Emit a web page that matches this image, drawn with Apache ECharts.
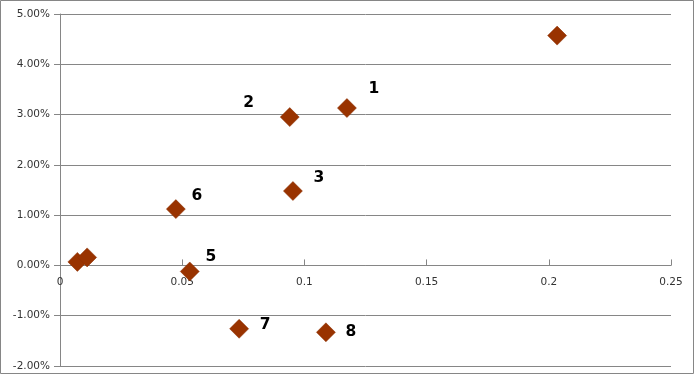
<!DOCTYPE html>
<html>
<head>
<meta charset="utf-8">
<script src="https://cdn.jsdelivr.net/npm/echarts@6/dist/echarts.min.js"></script>
<style>
html,body{margin:0;padding:0;background:#fff;}
#c{width:694px;height:374px;}
</style>
</head>
<body>
<div id="c"></div>
<script>
// data
var xValues = [0.2034, 0.1174, 0.0940, 0.0953, 0.0474, 0.0531, 0.0071, 0.0111, 0.0733, 0.1088];
var yValues = [4.57, 3.13, 2.95, 1.48, 1.12, -0.12, 0.07, 0.16, -1.26, -1.33]; // percent
var pointLabels = ['', '1', '2', '3', '6', '5', '', '', '7', '8'];
var xTicks = ['0', '0.05', '0.1', '0.15', '0.2', '0.25'];

// label placement (style only)
var labelOffsets = {
  '1': [27, -19], '2': [-41, -14], '3': [26, -13], '6': [21, -13],
  '5': [21, -14], '7': [26, -4], '8': [25, 0]
};

var data = xValues.map(function (x, i) {
  var name = pointLabels[i];
  var item = { value: [x, yValues[i]], name: name };
  if (name) {
    item.label = { show: true, position: 'inside', offset: labelOffsets[name], formatter: name };
  }
  return item;
});

var gridTop = 14, gridBottom = 8, H = 374;
var yMin = -2, yMax = 5;
var plotH = H - gridTop - gridBottom;
var zeroOffset = -plotH * (0 - yMin) / (yMax - yMin); // move x axis up to y=0

var chart = echarts.init(document.getElementById('c'));
var gray = '#868686';
chart.setOption({
  animation: false,
  backgroundColor: '#fff',
  grid: { left: 60, right: 23, top: gridTop, bottom: gridBottom, containLabel: false, outerBoundsMode: 'none' },
  graphic: [{
    type: 'rect', silent: true,
    shape: { x: 0.5, y: 0.5, width: 693, height: 373 },
    style: { fill: 'none', stroke: gray, lineWidth: 1 }
  }],
  xAxis: {
    type: 'value', min: 0, max: 0.25, interval: 0.05,
    position: 'bottom', offset: zeroOffset,
    axisLine: { show: true, onZero: false, lineStyle: { color: gray, width: 1 } },
    axisTick: { show: true, inside: true, length: 6, lineStyle: { color: gray } },
    axisLabel: {
      color: '#333', fontFamily: 'DejaVu Sans', fontSize: 10.5, margin: 11,
      formatter: function (v) { return xTicks[Math.round(v / 0.05)]; }
    },
    splitLine: { show: false }
  },
  yAxis: {
    type: 'value', min: yMin, max: yMax, interval: 1,
    axisLine: { show: true, lineStyle: { color: gray, width: 1 } },
    axisTick: { show: true, inside: false, length: 6, lineStyle: { color: gray } },
    axisLabel: {
      color: '#333', fontFamily: 'DejaVu Sans', fontSize: 10.5, margin: 10,
      formatter: function (v) { return v.toFixed(2) + '%'; }
    },
    splitLine: { show: true, lineStyle: { color: gray, width: 1 } }
  },
  series: [{
    type: 'scatter',
    symbol: 'diamond',
    symbolSize: 19,
    itemStyle: { color: '#993300', borderColor: '#8a2e00', borderWidth: 0.5, opacity: 1 },
    label: {
      show: false, color: '#000', fontFamily: 'DejaVu Sans', fontWeight: 'bold', fontSize: 15.5
    },
    data: data
  }]
});
</script>
</body>
</html>
